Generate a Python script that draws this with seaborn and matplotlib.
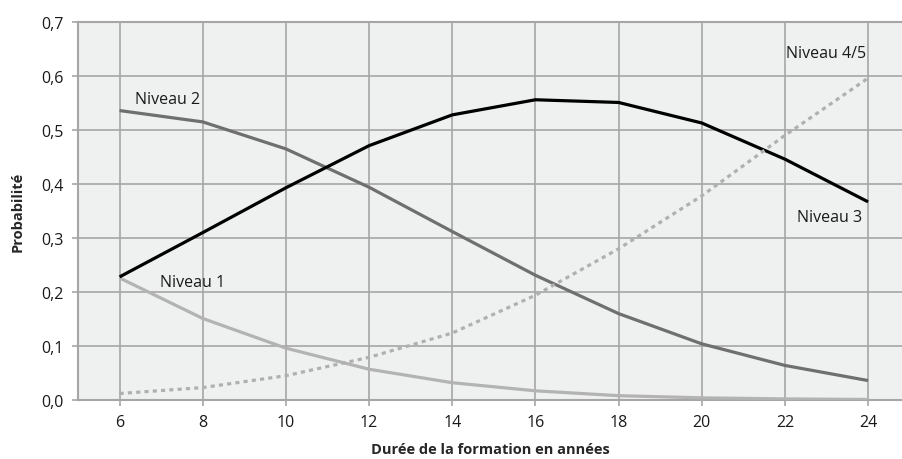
import matplotlib
matplotlib.use('Agg')
import matplotlib.pyplot as plt
from matplotlib.ticker import FuncFormatter
import pandas as pd
import seaborn as sns

YEARS = [6, 8, 10, 12, 14, 16, 18, 20, 22, 24]
NIVEAU_1 = [0.226, 0.151, 0.096, 0.057, 0.032, 0.017, 0.008, 0.004, 0.002, 0.001]
NIVEAU_2 = [0.536, 0.515, 0.465, 0.394, 0.312, 0.231, 0.160, 0.104, 0.064, 0.036]
NIVEAU_3 = [0.228, 0.310, 0.393, 0.471, 0.528, 0.556, 0.551, 0.513, 0.446, 0.367]
NIVEAU_45 = [0.012, 0.023, 0.045, 0.079, 0.124, 0.194, 0.280, 0.378, 0.490, 0.596]
SERIES = ['Niveau 1', 'Niveau 2', 'Niveau 3', 'Niveau 4/5']
COLORS = {'Niveau 1': '#b3b3b3', 'Niveau 2': '#6f6f6f',
          'Niveau 3': '#000000', 'Niveau 4/5': '#b0b0b0'}
DASHES = {'Niveau 1': '', 'Niveau 2': '', 'Niveau 3': '',
          'Niveau 4/5': (1.3, 1.3)}
# label positions (data coords)
LABELS = {'Niveau 2': (6.36, 0.557), 'Niveau 1': (6.96, 0.218),
          'Niveau 4/5': (22.02, 0.643), 'Niveau 3': (22.29, 0.339)}

GRID = '#a6a6a6'

sns.set_theme(style='white')
plt.rcParams['font.family'] = ['Open Sans', 'DejaVu Sans']

df = pd.DataFrame({
    'x': YEARS * 4,
    'y': NIVEAU_1 + NIVEAU_2 + NIVEAU_3 + NIVEAU_45,
    'serie': sum([[s] * len(YEARS) for s in SERIES], []),
})

fig = plt.figure(figsize=(9.03, 4.60), dpi=100)
ax = fig.add_axes([78 / 903, 59 / 460, 1 - 78 / 903, (401 - 23) / 460])
ax.set_facecolor('#eff0f0')

sns.lineplot(df, x='x', y='y', hue='serie', style='serie', palette=COLORS,
             dashes=DASHES, linewidth=2.3, legend=False, ax=ax, zorder=3)
for line in ax.get_lines():
    line.set_dash_capstyle('butt')
    line.set_solid_capstyle('butt')

for name, (lx, ly) in LABELS.items():
    ax.text(lx, ly, name, fontsize=11.5, color='#1a1a1a', va='center', ha='left',
            zorder=4)

ax.set_xlim(5, 24.84)
ax.set_ylim(0, 0.7)
ax.set_xticks(YEARS)
ax.set_yticks([0, 0.1, 0.2, 0.3, 0.4, 0.5, 0.6, 0.7])
ax.yaxis.set_major_formatter(FuncFormatter(lambda v, p: f'{v:.1f}'.replace('.', ',')))
ax.grid(True, color=GRID, linewidth=1.2, zorder=1)
ax.set_axisbelow(True)

for side in ['left', 'bottom', 'top']:
    ax.spines[side].set_color(GRID)
    ax.spines[side].set_linewidth(1.5)
ax.spines['right'].set_visible(False)

ax.tick_params(axis='both', which='major', length=4, width=1.2, color=GRID,
               labelsize=11.5, labelcolor='#1a1a1a', pad=6, direction='out')
ax.tick_params(axis='x', bottom=True)
ax.tick_params(axis='y', left=True)

ax.set_xlabel('Durée de la formation en années', fontsize=10.5, fontweight='bold',
              labelpad=9)
ax.set_ylabel('Probabilité', fontsize=10.5, fontweight='bold', labelpad=12)

fig.savefig('out.png', dpi=100)
